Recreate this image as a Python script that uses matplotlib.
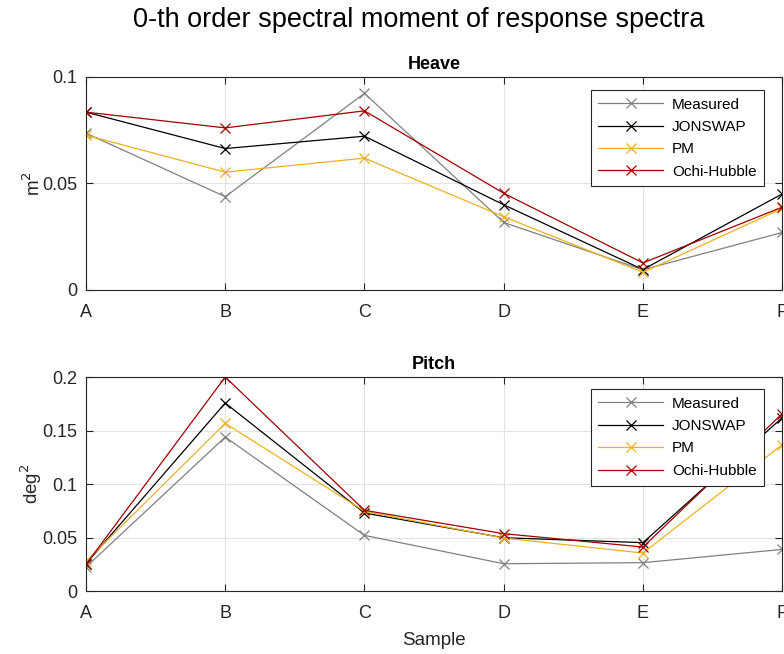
import numpy as np
import matplotlib
matplotlib.use("Agg")
import matplotlib.pyplot as plt

plt.rcParams["font.family"] = ["Liberation Sans", "DejaVu Sans"]

samples = ["A", "B", "C", "D", "E", "F"]
series_names = ["Measured", "JONSWAP", "PM", "Ochi-Hubble"]

heave_measured = [0.0736, 0.0438, 0.0923, 0.0317, 0.0095, 0.0270]
heave_jonswap = [0.0835, 0.0664, 0.0722, 0.0400, 0.0096, 0.0451]
heave_pm = [0.0727, 0.0553, 0.0619, 0.0344, 0.0083, 0.0383]
heave_ochi = [0.0835, 0.0761, 0.0841, 0.0454, 0.0127, 0.0389]

pitch_measured = [0.0224, 0.1439, 0.0520, 0.0255, 0.0265, 0.0389]
pitch_jonswap = [0.0255, 0.1757, 0.0729, 0.0498, 0.0452, 0.1620]
pitch_pm = [0.0277, 0.1567, 0.0745, 0.0495, 0.0355, 0.1368]
pitch_ochi = [0.0249, 0.2000, 0.0754, 0.0536, 0.0411, 0.1657]

colors = ["#808080", "#000000", "#EDB120", "#A00000"]

fig = plt.figure(figsize=(7.84, 6.54), dpi=100)
fig.suptitle("0-th order spectral moment of response spectra",
             fontsize=19.5, x=0.534, y=0.99)

ax1 = fig.add_axes([0.1097, 0.5566, 0.888, 0.3257])
ax2 = fig.add_axes([0.1097, 0.0963, 0.888, 0.3272])


def draw_panel(ax, data, title, ylabel, yticks, yticklabels, leg_top):
    x = np.arange(len(samples))
    for vals, name, c in zip(data, series_names, colors):
        ax.plot(x, vals, color=c, lw=0.9, marker="x", ms=7, mew=0.9, label=name)
    ax.set_xlim(0, len(samples) - 1)
    ax.set_ylim(yticks[0], yticks[-1])
    ax.set_xticks(x)
    ax.set_xticklabels(samples)
    ax.set_yticks(yticks)
    ax.set_yticklabels(yticklabels)
    ax.tick_params(direction="in", labelsize=13, colors="#262626",
                   length=5, width=0.8, top=True, right=True,
                   labeltop=False, labelright=False)
    ax.tick_params(axis="x", pad=10)
    ax.tick_params(axis="y", pad=6)
    ax.grid(True, color="#e3e3e3", lw=0.8)
    ax.set_axisbelow(True)
    for s in ax.spines.values():
        s.set_color("#262626")
        s.set_linewidth(0.8)
    ax.set_title(title, fontsize=13, fontweight="bold", pad=6)
    ax.set_ylabel(ylabel, fontsize=13.5, color="#262626", labelpad=-1)
    leg = ax.legend(loc="upper right", bbox_to_anchor=(0.974, leg_top),
                    borderaxespad=0, fontsize=11, handlelength=4.2,
                    borderpad=0.5, labelspacing=0.55, handletextpad=0.6,
                    fancybox=False, framealpha=1)
    leg.get_frame().set_edgecolor("#262626")
    leg.get_frame().set_linewidth(0.8)


draw_panel(ax1, [heave_measured, heave_jonswap, heave_pm, heave_ochi],
           "Heave", "m$^2$", [0, 0.05, 0.1], ["0", "0.05", "0.1"], 0.939)
draw_panel(ax2, [pitch_measured, pitch_jonswap, pitch_pm, pitch_ochi],
           "Pitch", "deg$^2$", [0, 0.05, 0.1, 0.15, 0.2],
           ["0", "0.05", "0.1", "0.15", "0.2"], 0.944)
ax2.set_xlabel("Sample", fontsize=13.5, color="#262626", labelpad=7)

fig.savefig("out.png", dpi=100)
